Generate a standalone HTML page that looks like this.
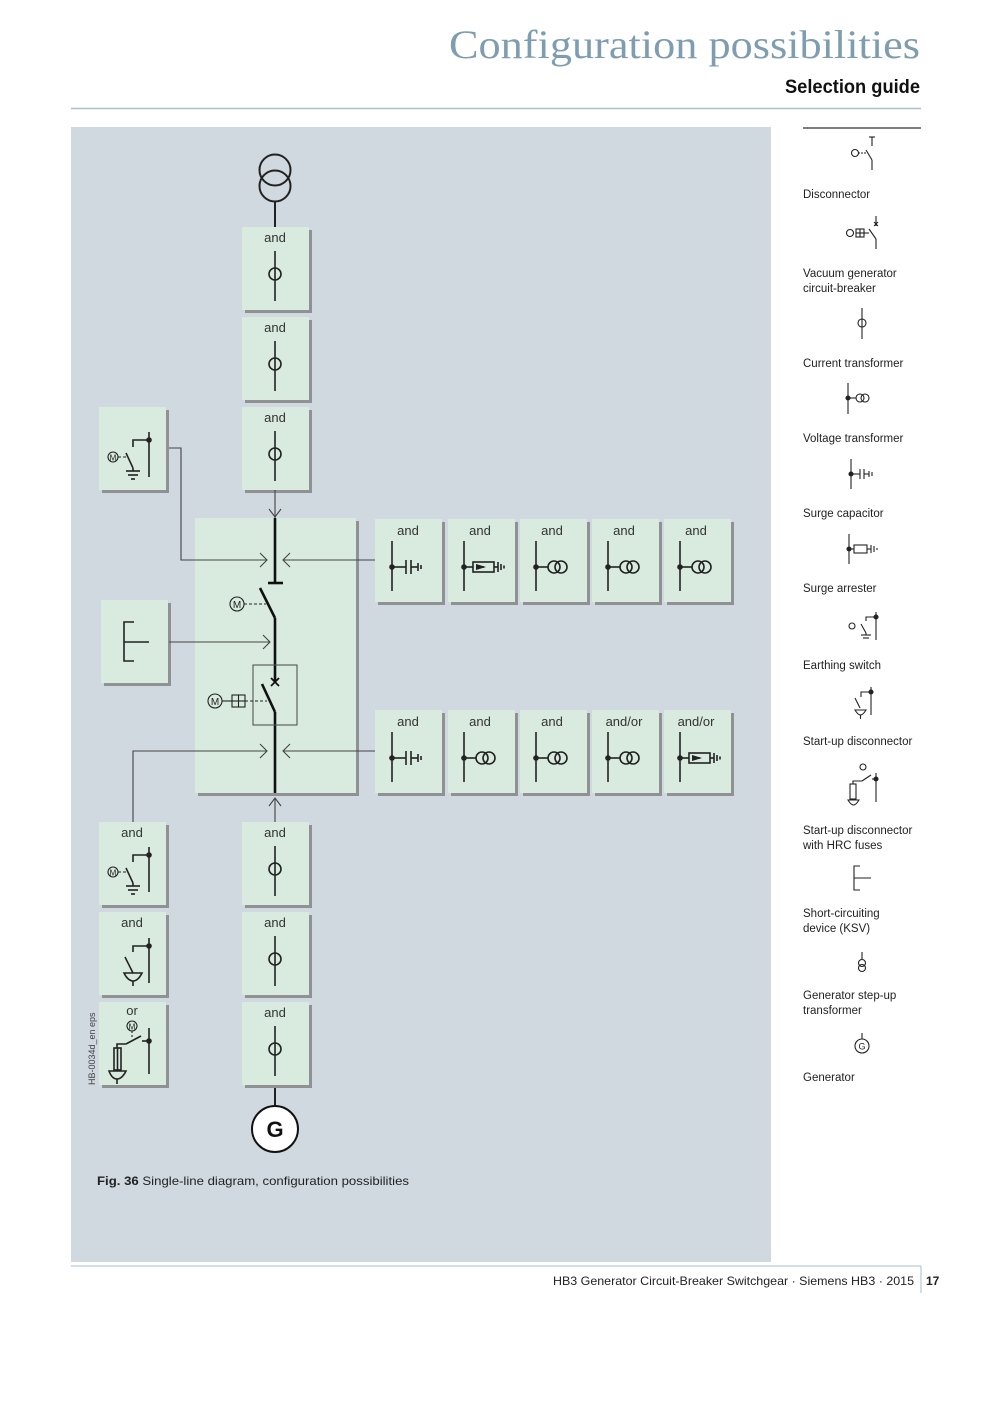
<!DOCTYPE html>
<html><head><meta charset="utf-8"><style>
html,body{margin:0;padding:0;background:#fff;}
svg{display:block;}
text{font-family:"Liberation Sans","DejaVu Sans",sans-serif;}
</style></head><body>
<svg width="992" height="1403" viewBox="0 0 992 1403" xmlns="http://www.w3.org/2000/svg">
<defs>
<g id="bx"><rect x="3" y="3" width="67" height="83" fill="#8f9193"/><rect x="0" y="0" width="67" height="83" fill="#d8ebde"/></g>
<g id="ct" stroke="#222" stroke-width="1.6" fill="none"><line x1="0" y1="0" x2="0" y2="50"/><circle cx="0" cy="23" r="6"/></g>
<g id="vt" stroke="#222" stroke-width="1.6" fill="none"><line x1="0" y1="-26" x2="0" y2="24"/><circle cx="0" cy="0" r="2.8" fill="#222" stroke="none"/><line x1="0" y1="0" x2="12" y2="0"/><circle cx="18" cy="0" r="6"/><circle cx="25" cy="0" r="6"/></g>
<g id="cap" stroke="#222" stroke-width="1.6" fill="none"><line x1="0" y1="-26" x2="0" y2="24"/><circle cx="0" cy="0" r="2.8" fill="#222" stroke="none"/><line x1="0" y1="0" x2="14" y2="0"/><line x1="14" y1="-7" x2="14" y2="7"/><line x1="19" y1="-7" x2="19" y2="7"/><line x1="19" y1="0" x2="26" y2="0"/><line x1="26" y1="-4" x2="26" y2="4"/><line x1="29" y1="-2" x2="29" y2="2"/></g>
<g id="arr" stroke="#222" stroke-width="1.6" fill="none"><line x1="0" y1="-26" x2="0" y2="24"/><circle cx="0" cy="0" r="2.8" fill="#222" stroke="none"/><line x1="0" y1="0" x2="9" y2="0"/><rect x="9" y="-5" width="21" height="10"/><polygon points="12,-3 22,0 12,3" fill="#222" stroke="none"/><line x1="12" y1="0" x2="20" y2="0"/><line x1="30" y1="0" x2="34" y2="0"/><line x1="34" y1="-5" x2="34" y2="5"/><line x1="37" y1="-3" x2="37" y2="3"/><line x1="40" y1="-1.5" x2="40" y2="1.5"/></g>
<g id="earth" stroke="#222" stroke-width="1.6" fill="none"><line x1="50" y1="25" x2="50" y2="70"/><circle cx="50" cy="33" r="2.8" fill="#222" stroke="none"/><polyline points="50,33 34,33 34,40"/><line x1="34" y1="61" x2="27" y2="46"/><line x1="34" y1="61" x2="34" y2="64"/><line x1="27" y1="64" x2="41" y2="64"/><line x1="29" y1="68" x2="39" y2="68"/><line x1="32" y1="72" x2="36" y2="72"/><circle cx="14" cy="50" r="5" stroke-width="1.1"/><line x1="19" y1="50" x2="28" y2="50" stroke-dasharray="3,2" stroke-width="1.1"/><text x="14" y="53.5" font-size="8" text-anchor="middle" fill="#222" stroke="none">M</text></g>
</defs>

<!-- header -->
<text x="449" y="58" font-size="40" fill="#7f9db0" textLength="471" lengthAdjust="spacingAndGlyphs" style="font-family:'Liberation Serif',serif">Configuration possibilities</text>
<text x="785" y="93" font-size="19" font-weight="bold" fill="#111" textLength="135" lengthAdjust="spacingAndGlyphs">Selection guide</text>
<line x1="71" y1="108.5" x2="921" y2="108.5" stroke="#a9bfca" stroke-width="1.5"/>

<!-- panel -->
<rect x="71" y="127" width="700" height="1135" fill="#d0d8e0"/>

<!-- transformer -->
<g stroke="#222" stroke-width="2" fill="none"><circle cx="275" cy="170" r="15.5"/><circle cx="275" cy="186" r="15.5"/><line x1="275" y1="202" x2="275" y2="227"/></g>

<!-- center column top boxes -->
<use href="#bx" x="242" y="227"/><use href="#bx" x="242" y="317"/><use href="#bx" x="242" y="407"/>
<g font-size="13" fill="#333" text-anchor="middle">
<text x="275" y="242">and</text><text x="275" y="332">and</text><text x="275" y="422">and</text>
</g>
<use href="#ct" x="275" y="251"/><use href="#ct" x="275" y="341"/><use href="#ct" x="275" y="431"/>

<!-- big box -->
<rect x="198" y="521" width="161" height="275" fill="#8f9193"/>
<rect x="195" y="518" width="161" height="275" fill="#d8ebde"/>

<!-- left boxes -->
<use href="#bx" x="99" y="407"/><use href="#earth" x="99" y="407"/>
<use href="#bx" x="101" y="600"/>
<g stroke="#222" stroke-width="1.6" fill="none"><polyline points="134,622 124,622 124,661 134,661"/><line x1="124" y1="642" x2="149" y2="642"/></g>

<!-- connectors -->
<g stroke="#444" stroke-width="1.1" fill="none">
<line x1="275" y1="490" x2="275" y2="518"/><polyline points="269,509 275,517 281,509"/>
<polyline points="169,448 181,448 181,560 267,560"/><polyline points="260,553 267,560 260,567"/>
<line x1="375" y1="560" x2="283" y2="560"/><polyline points="290,553 283,560 290,567"/>
<line x1="169" y1="642" x2="270" y2="642"/><polyline points="263,635 270,642 263,649"/>
<polyline points="133,822 133,751 267,751"/><polyline points="260,744 267,751 260,758"/>
<line x1="375" y1="751" x2="283" y2="751"/><polyline points="290,744 283,751 290,758"/>
<line x1="275" y1="822" x2="275" y2="798"/><polyline points="269,806 275,798 281,806"/>
</g>

<!-- main bus inside big box -->
<g stroke="#111" stroke-width="2.6" fill="none">
<line x1="275" y1="518" x2="275" y2="583"/><line x1="268" y1="583" x2="283" y2="583"/>
<line x1="260" y1="588" x2="275" y2="618"/><line x1="275" y1="618" x2="275" y2="683"/>
<line x1="262" y1="684" x2="275" y2="712"/><line x1="275" y1="712" x2="275" y2="793"/>
</g>
<g stroke="#111" stroke-width="1.8"><line x1="271" y1="678" x2="279" y2="686"/><line x1="279" y1="678" x2="271" y2="686"/></g>
<rect x="253" y="665" width="44" height="60" fill="none" stroke="#555" stroke-width="1.1"/>
<g stroke="#222" stroke-width="1.1" fill="none">
<circle cx="237" cy="604" r="7"/><line x1="244" y1="604" x2="266" y2="604" stroke-dasharray="3,2"/>
<circle cx="215" cy="701" r="7"/><line x1="222" y1="701" x2="232" y2="701"/><rect x="232" y="695" width="13" height="12"/><line x1="238.5" y1="695" x2="238.5" y2="707"/><line x1="232" y1="701" x2="245" y2="701"/><line x1="245" y1="701" x2="267" y2="701" stroke-dasharray="3,2"/>
</g>
<g font-size="10" fill="#222" text-anchor="middle"><text x="237" y="608">M</text><text x="215" y="705">M</text></g>

<!-- right rows -->
<use href="#bx" x="375" y="519"/><use href="#bx" x="448" y="519"/><use href="#bx" x="520" y="519"/><use href="#bx" x="592" y="519"/><use href="#bx" x="664" y="519"/>
<use href="#bx" x="375" y="710"/><use href="#bx" x="448" y="710"/><use href="#bx" x="520" y="710"/><use href="#bx" x="592" y="710"/><use href="#bx" x="664" y="710"/>
<g font-size="13" fill="#333" text-anchor="middle">
<text x="408" y="535">and</text><text x="480" y="535">and</text><text x="552" y="535">and</text><text x="624" y="535">and</text><text x="696" y="535">and</text>
<text x="408" y="726">and</text><text x="480" y="726">and</text><text x="552" y="726">and</text><text x="624" y="726">and/or</text><text x="696" y="726">and/or</text>
</g>
<use href="#cap" x="392" y="567"/><use href="#arr" x="464" y="567"/><use href="#vt" x="536" y="567"/><use href="#vt" x="608" y="567"/><use href="#vt" x="680" y="567"/>
<use href="#cap" x="392" y="758"/><use href="#vt" x="464" y="758"/><use href="#vt" x="536" y="758"/><use href="#vt" x="608" y="758"/><use href="#arr" x="680" y="758"/>

<!-- bottom left boxes -->
<use href="#bx" x="99" y="822"/><use href="#bx" x="99" y="912"/><use href="#bx" x="99" y="1002"/>
<g font-size="13" fill="#333" text-anchor="middle"><text x="132" y="837">and</text><text x="132" y="927">and</text><text x="132" y="1015">or</text></g>
<use href="#earth" x="99" y="822"/>
<g stroke="#222" stroke-width="1.6" fill="none">
<line x1="149" y1="938" x2="149" y2="983"/><circle cx="149" cy="946" r="2.8" fill="#222" stroke="none"/><polyline points="149,946 133,946 133,952"/>
<line x1="133" y1="973" x2="125" y2="957"/><path d="M124,973 L142,973 Q138,981 133,981 Q128,981 124,973 Z"/><line x1="133" y1="981" x2="133" y2="986"/>
<line x1="149" y1="1028" x2="149" y2="1074"/><circle cx="149" cy="1041" r="2.8" fill="#222" stroke="none"/><line x1="149" y1="1041" x2="142" y2="1041"/>
<line x1="141" y1="1036" x2="126" y2="1044"/><polyline points="126,1044 117,1044 117,1048"/><rect x="114" y="1048" width="7" height="22"/><line x1="117.5" y1="1048" x2="117.5" y2="1070"/>
<path d="M109,1071 L126,1071 Q122,1079 117,1079 Q112,1079 109,1071 Z"/><line x1="117" y1="1079" x2="117" y2="1084"/>
<circle cx="132" cy="1026" r="5" stroke-width="1.1"/><line x1="132" y1="1031" x2="132" y2="1038" stroke-dasharray="2,2" stroke-width="1.1"/>
</g>
<text x="132" y="1029.5" font-size="8" fill="#222" text-anchor="middle">M</text>
<text transform="translate(95,1085) rotate(-90)" font-size="9" fill="#444">HB-0034d_en eps</text>

<!-- bottom center -->
<use href="#bx" x="242" y="822"/><use href="#bx" x="242" y="912"/><use href="#bx" x="242" y="1002"/>
<g font-size="13" fill="#333" text-anchor="middle"><text x="275" y="837">and</text><text x="275" y="927">and</text><text x="275" y="1017">and</text></g>
<use href="#ct" x="275" y="846"/><use href="#ct" x="275" y="936"/><use href="#ct" x="275" y="1026"/>
<line x1="275" y1="1088" x2="275" y2="1106" stroke="#222" stroke-width="2"/>
<circle cx="275" cy="1129" r="23" fill="#fff" stroke="#111" stroke-width="2"/>
<text x="275" y="1137" font-size="22" font-weight="bold" fill="#111" text-anchor="middle">G</text>

<text x="97" y="1185" font-size="12" fill="#222" textLength="312" lengthAdjust="spacingAndGlyphs"><tspan font-weight="bold">Fig. 36</tspan>  Single-line diagram, configuration possibilities</text>

<!-- legend -->
<line x1="803" y1="128" x2="921" y2="128" stroke="#555" stroke-width="1.5"/>
<g font-size="11.5" fill="#222">
<text x="803" y="198">Disconnector</text>
<text x="803" y="277">Vacuum generator</text><text x="803" y="292">circuit-breaker</text>
<text x="803" y="367">Current transformer</text>
<text x="803" y="442">Voltage transformer</text>
<text x="803" y="517">Surge capacitor</text>
<text x="803" y="592">Surge arrester</text>
<text x="803" y="669">Earthing switch</text>
<text x="803" y="745">Start-up disconnector</text>
<text x="803" y="834">Start-up disconnector</text><text x="803" y="849">with HRC fuses</text>
<text x="803" y="917">Short-circuiting</text><text x="803" y="932">device (KSV)</text>
<text x="803" y="999">Generator step-up</text><text x="803" y="1014">transformer</text>
<text x="803" y="1081">Generator</text>
</g>
<g stroke="#222" stroke-width="1.1" fill="none">
<line x1="872" y1="137" x2="872" y2="146"/><line x1="869" y1="137" x2="875" y2="137"/><line x1="866" y1="150" x2="872" y2="160"/><line x1="872" y1="160" x2="872" y2="170"/><circle cx="855" cy="153" r="3.5"/><line x1="858" y1="153" x2="866" y2="153" stroke-dasharray="2,1"/>
<line x1="876" y1="216" x2="876" y2="226"/><line x1="874" y1="222" x2="878" y2="226"/><line x1="878" y1="222" x2="874" y2="226"/><line x1="869" y1="229" x2="876" y2="239"/><line x1="876" y1="239" x2="876" y2="249"/><circle cx="850" cy="233" r="3.5"/><rect x="856" y="229" width="8" height="8"/><line x1="860" y1="229" x2="860" y2="237"/><line x1="856" y1="233" x2="869" y2="233"/>
<line x1="862" y1="308" x2="862" y2="339"/><circle cx="862" cy="323" r="4"/>
<line x1="848" y1="383" x2="848" y2="414"/><circle cx="848" cy="398" r="2" fill="#222"/><line x1="848" y1="398" x2="856" y2="398"/><circle cx="860" cy="398" r="4"/><circle cx="865" cy="398" r="4"/>
<line x1="851" y1="459" x2="851" y2="489"/><circle cx="851" cy="474" r="2" fill="#222"/><line x1="851" y1="474" x2="860" y2="474"/><line x1="860" y1="469" x2="860" y2="479"/><line x1="864" y1="469" x2="864" y2="479"/><line x1="864" y1="474" x2="869" y2="474"/><line x1="869" y1="471" x2="869" y2="477"/><line x1="872" y1="472" x2="872" y2="476"/>
<line x1="849" y1="534" x2="849" y2="564"/><circle cx="849" cy="549" r="2" fill="#222"/><line x1="849" y1="549" x2="854" y2="549"/><rect x="854" y="545" width="13" height="8"/><line x1="867" y1="549" x2="871" y2="549"/><line x1="871" y1="545" x2="871" y2="553"/><line x1="874" y1="546" x2="874" y2="552"/><line x1="877" y1="548" x2="877" y2="550"/>
<line x1="876" y1="612" x2="876" y2="640"/><circle cx="876" cy="617" r="2" fill="#222"/><polyline points="876,617 866,617 866,621"/><line x1="866" y1="633" x2="861" y2="624"/><line x1="866" y1="633" x2="866" y2="635"/><line x1="861" y1="635" x2="871" y2="635"/><line x1="863" y1="638" x2="869" y2="638"/><circle cx="852" cy="626" r="3"/>
<line x1="871" y1="687" x2="871" y2="715"/><circle cx="871" cy="692" r="2" fill="#222"/><polyline points="871,692 861,692 861,697"/><line x1="860" y1="708" x2="855" y2="698"/><path d="M855,710 L866,710 Q863,715 860.5,715 Q858,715 855,710 Z"/><line x1="860.5" y1="715" x2="860.5" y2="719"/>
<line x1="876" y1="773" x2="876" y2="802"/><circle cx="876" cy="779" r="2" fill="#222"/><line x1="876" y1="779" x2="872" y2="779"/><line x1="871" y1="775" x2="862" y2="781"/><polyline points="862,781 853,781 853,784"/><rect x="850" y="784" width="6" height="15"/><path d="M848,800 L859,800 Q856,805 853.5,805 Q851,805 848,800 Z"/><circle cx="863" cy="767" r="3"/>
<polyline points="860,866 854,866 854,890 860,890"/><line x1="854" y1="878" x2="871" y2="878"/>
<line x1="862" y1="952" x2="862" y2="960"/><circle cx="862" cy="963" r="3.5"/><circle cx="862" cy="968" r="3.5"/>
<line x1="862" y1="1033" x2="862" y2="1039"/><circle cx="862" cy="1046" r="7"/>
</g>
<text x="862" y="1049.5" font-size="9" fill="#222" text-anchor="middle">G</text>

<!-- footer -->
<line x1="71" y1="1266" x2="921" y2="1266" stroke="#a9bfca" stroke-width="1"/>
<line x1="921" y1="1266" x2="921" y2="1293" stroke="#a9bfca" stroke-width="1"/>
<text x="553" y="1285" font-size="12" fill="#222" textLength="361" lengthAdjust="spacingAndGlyphs">HB3 Generator Circuit-Breaker Switchgear · Siemens HB3 · 2015</text>
<text x="926" y="1285" font-size="12" font-weight="bold" fill="#222">17</text>
</svg>
</body></html>
